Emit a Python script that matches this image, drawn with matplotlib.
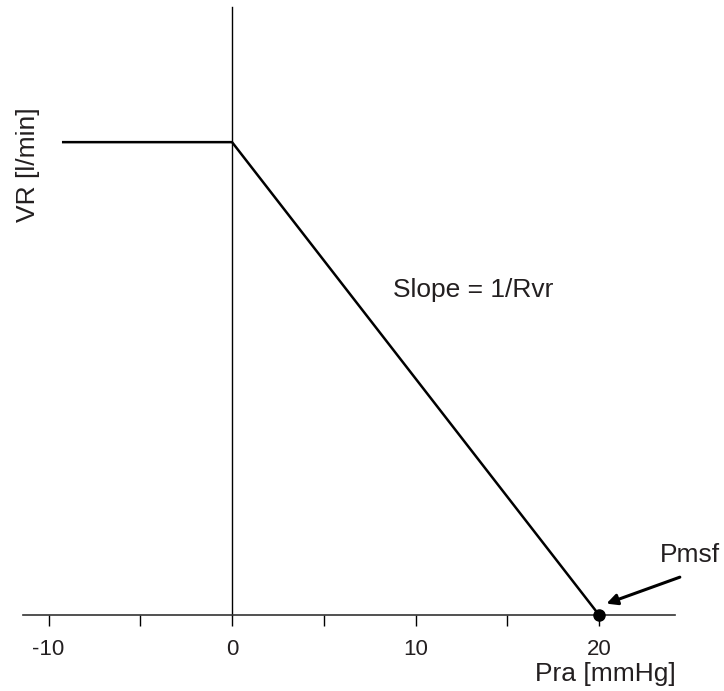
import numpy as np
import matplotlib
matplotlib.use('Agg')
import matplotlib.pyplot as plt

plt.rcParams['font.family'] = ['Liberation Sans', 'DejaVu Sans']

# venous return curve
pra = [-9.2, 0, 20]
vr = [5, 5, 0]
pmsf = (20, 0)

major_ticks = [-10, 0, 10, 20]
tick_labels = ['-10', '0', '10', '20']
minor_ticks = [-5, 5, 15]

fontsize = 19
txtcol = '#231f20'

fig = plt.figure(figsize=(7.24, 6.91), dpi=100)
ax = fig.add_axes([0.0318, 0.110, 0.9006, 0.880])

ax.plot(pra, vr, color='black', linewidth=1.8, solid_joinstyle='miter')
ax.plot(*pmsf, 'o', color='black', markersize=8, clip_on=False, zorder=5)

ax.set_xlim(-11.39, 24.14)
ax.set_ylim(0, 6.43)

for s in ['top', 'right']:
    ax.spines[s].set_visible(False)
ax.spines['left'].set_position(('data', 0))
ax.spines['left'].set_linewidth(1.0)
ax.spines['bottom'].set_linewidth(1.2)
ax.spines['bottom'].set_color('#333333')
ax.set_yticks([])

ax.set_xticks(major_ticks)
ax.set_xticklabels(tick_labels)
ax.set_xticks(minor_ticks, minor=True)
ax.tick_params(axis='x', which='both', direction='out', length=8, width=1,
               labelsize=16, labelcolor=txtcol, pad=9)

ax.text(8.77, 3.44, 'Slope = 1/Rvr', fontsize=fontsize, color=txtcol, va='center')
ax.text(23.3, 0.635, 'Pmsf', fontsize=fontsize, color=txtcol, va='center')
ax.annotate('', xy=(20.4, 0.12), xytext=(24.4, 0.4), annotation_clip=False,
            arrowprops=dict(arrowstyle='-|>', color='black', lw=2.2,
                            mutation_scale=16, shrinkA=0, shrinkB=0))

fig.text(605/724, 1 - 674/691, 'Pra [mmHg]', fontsize=fontsize, color=txtcol,
         ha='center', va='center')
fig.text(28/724, 1 - 165/691, 'VR [l/min]', fontsize=fontsize, color=txtcol,
         ha='center', va='center', rotation=90)

fig.savefig('out.png', dpi=100)
